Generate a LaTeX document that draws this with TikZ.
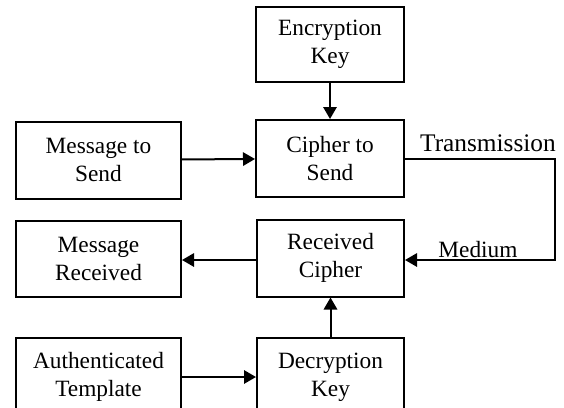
\documentclass[tikz,border=0pt]{standalone}
\usepackage{fontspec}
\setmainfont{Liberation Serif}
\usetikzlibrary{arrows.meta}
\tikzset{
  blk/.style={draw, line width=1.5pt, align=center, inner sep=0pt,
    font=\fontsize{17.5}{21}\selectfont},
  arr/.style={line width=1.5pt, -{Triangle[length=9pt,width=10pt]}}
}
\begin{document}
\begin{tikzpicture}[x=0.75pt,y=-0.75pt]
                    \useasboundingbox (0,0) rectangle (564,407);
                    \node[blk, minimum width=148*0.75pt, minimum height=75*0.75pt] (enc) at (330,44.5) {Encryption\\Key};
                    \node[blk, minimum width=148*0.75pt, minimum height=77*0.75pt] (cipher) at (330,158.5) {Cipher to\\Send};
                    \node[blk, minimum width=165*0.75pt, minimum height=77*0.75pt] (msend) at (98.5,160) {Message to\\Send};
                    \node[blk, minimum width=147*0.75pt, minimum height=77*0.75pt] (rcv) at (330.5,258) {Received\\Cipher};
                    \node[blk, minimum width=165*0.75pt, minimum height=76*0.75pt] (mrcv) at (98.5,259) {Message\\Received};
                    \node[blk, minimum width=147*0.75pt, minimum height=79*0.75pt] (dec) at (330.5,377) {Decryption\\Key};
                    \node[blk, minimum width=165*0.75pt, minimum height=79*0.75pt] (auth) at (98.5,377) {Authenticated\\Template};
                    \coordinate (tm) at (555,159);
                    \coordinate (rm) at (555,260);
                    \draw[arr] (enc) -- (cipher);
                    \draw[arr] (msend) -- (cipher);
                    \draw[arr] (cipher.east |- tm) -- (tm) -- (rm) -- (rcv.east |- rm);
                    \draw[arr] (rcv.west |- rm) -- (mrcv.east |- rm);
                    \draw[arr] (dec) -- (rcv);
                    \draw[arr] (auth) -- (dec);
                    \node[font=\fontsize{19}{22}\selectfont] (trans) at (488,143) {Transmission};
                    \node[font=\fontsize{17.5}{21}\selectfont] (med) at (478,250) {Medium};
                \end{tikzpicture}
\end{document}
